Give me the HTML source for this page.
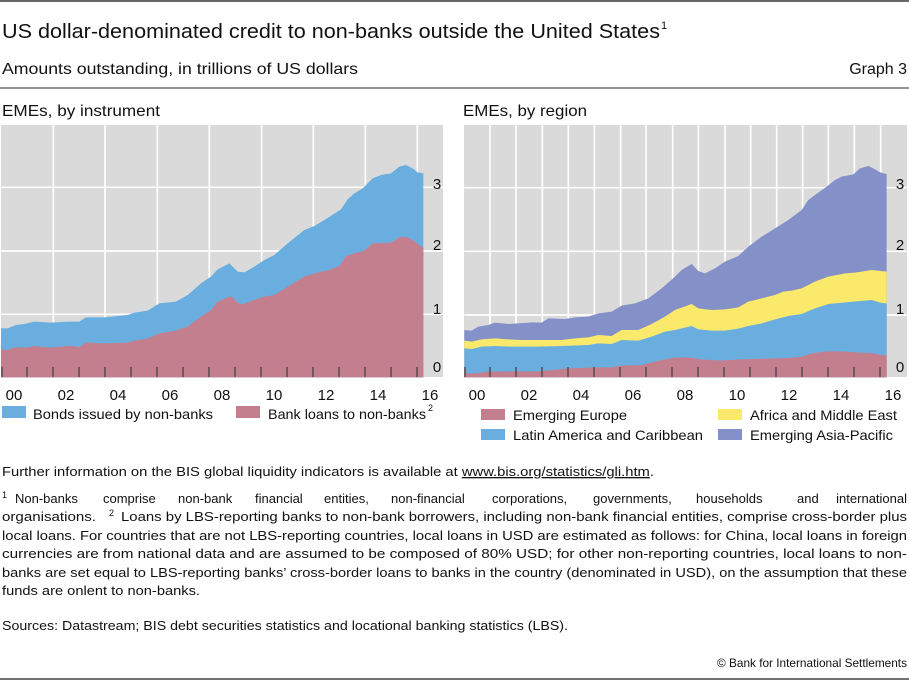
<!DOCTYPE html>
<html><head><meta charset="utf-8"><style>html,body{margin:0;padding:0;background:#fff}svg{display:block}</style></head>
<body>
<svg width="909" height="681" viewBox="0 0 909 681" xmlns="http://www.w3.org/2000/svg" font-family="Liberation Sans, DejaVu Sans, sans-serif">
<rect width="909" height="681" fill="#fff"/>
<line x1="0" y1="1" x2="909" y2="1" stroke="#333" stroke-width="1.5"/>
<text x="2" y="38" font-size="20" fill="#111" textLength="658" lengthAdjust="spacingAndGlyphs">US dollar-denominated credit to non-banks outside the United States</text>
<text x="661" y="29" font-size="11" fill="#111">1</text>
<text x="2" y="74" font-size="16" fill="#111" textLength="356" lengthAdjust="spacingAndGlyphs">Amounts outstanding, in trillions of US dollars</text>
<text x="907" y="74" font-size="16" fill="#111" text-anchor="end">Graph 3</text>
<line x1="0" y1="88" x2="909" y2="88" stroke="#555" stroke-width="1.2"/>
<text x="2" y="116" font-size="16" fill="#111" textLength="158" lengthAdjust="spacingAndGlyphs">EMEs, by instrument</text>
<text x="463" y="116" font-size="16" fill="#111" textLength="124" lengthAdjust="spacingAndGlyphs">EMEs, by region</text>

<!-- LEFT PANEL -->
<rect x="1" y="125" width="442" height="252" fill="#dadada"/>
<g transform="translate(0,120) scale(0.33333)" stroke="#fff" stroke-width="5">
<line x1="3" y1="583" x2="1329" y2="583"/><line x1="3" y1="393" x2="1329" y2="393"/><line x1="3" y1="202" x2="1329" y2="202"/>
<line x1="160" y1="15" x2="160" y2="772"/><line x1="315" y1="15" x2="315" y2="772"/><line x1="472" y1="15" x2="472" y2="772"/><line x1="628" y1="15" x2="628" y2="772"/><line x1="785" y1="15" x2="785" y2="772"/><line x1="940" y1="15" x2="940" y2="772"/><line x1="1096" y1="15" x2="1096" y2="772"/><line x1="1252" y1="15" x2="1252" y2="772"/>
</g>
<g transform="translate(1,120) scale(0.33333)">
<polygon fill="#6aaee0" points="0,772 0,625 20,625 45,615 70,612 100,605 150,608 200,605 235,605 255,592 310,592 380,585 400,578 440,572 475,550 525,545 560,525 600,490 630,470 650,448 685,430 710,455 730,457 760,440 790,420 820,405 860,370 910,330 940,318 970,300 1020,268 1040,238 1060,220 1085,205 1115,175 1140,165 1170,160 1195,140 1215,135 1235,145 1250,157 1267,160 1267,772"/>
<polygon fill="#c47f8e" points="0,772 0,688 20,690 40,682 80,683 100,678 150,683 200,678 220,678 235,682 255,667 300,670 380,668 400,662 440,656 475,640 520,633 560,620 600,590 630,570 650,545 690,528 710,548 725,553 760,540 790,530 820,525 860,500 910,470 925,465 960,455 980,452 1015,438 1035,408 1060,400 1090,392 1115,370 1170,368 1195,352 1215,350 1235,360 1250,372 1267,383 1267,772"/>
</g>
<g stroke="#5a4a4e" stroke-width="1.5">
<line x1="2" y1="367" x2="2" y2="377"/><line x1="27" y1="367" x2="27" y2="377"/><line x1="53" y1="367" x2="53" y2="377"/><line x1="79" y1="367" x2="79" y2="377"/><line x1="105" y1="367" x2="105" y2="377"/><line x1="131" y1="367" x2="131" y2="377"/><line x1="157" y1="367" x2="157" y2="377"/><line x1="183" y1="367" x2="183" y2="377"/><line x1="209" y1="367" x2="209" y2="377"/><line x1="235" y1="367" x2="235" y2="377"/><line x1="261" y1="367" x2="261" y2="377"/><line x1="287" y1="367" x2="287" y2="377"/><line x1="313" y1="367" x2="313" y2="377"/><line x1="339" y1="367" x2="339" y2="377"/><line x1="365" y1="367" x2="365" y2="377"/><line x1="391" y1="367" x2="391" y2="377"/><line x1="417" y1="367" x2="417" y2="377"/>
</g>
<g font-size="15" fill="#111" text-anchor="middle">
<text x="437" y="372">0</text><text x="437" y="314">1</text><text x="437" y="250">2</text><text x="437" y="189">3</text>
<text x="14" y="400">00</text><text x="66" y="400">02</text><text x="118" y="400">04</text><text x="170" y="400">06</text><text x="222" y="400">08</text><text x="274" y="400">10</text><text x="326" y="400">12</text><text x="378" y="400">14</text><text x="430" y="400">16</text>
</g>
<rect x="2" y="406" width="24" height="12" fill="#6aaee0"/>
<text x="33" y="419" font-size="14" fill="#111" textLength="180" lengthAdjust="spacingAndGlyphs">Bonds issued by non-banks</text>
<rect x="236" y="406" width="24" height="12" fill="#c47f8e"/>
<text x="268" y="419" font-size="14" fill="#111" textLength="158" lengthAdjust="spacingAndGlyphs">Bank loans to non-banks</text>
<text x="428" y="411" font-size="9" fill="#111">2</text>

<!-- RIGHT PANEL -->
<rect x="464" y="125" width="443" height="252" fill="#dadada"/>
<g transform="translate(455,120) scale(0.33333)" stroke="#fff" stroke-width="5">
<line x1="28" y1="585" x2="1356" y2="585"/><line x1="28" y1="394" x2="1356" y2="394"/><line x1="28" y1="203" x2="1356" y2="203"/>
<line x1="105" y1="15" x2="105" y2="772"/><line x1="183" y1="15" x2="183" y2="772"/><line x1="262" y1="15" x2="262" y2="772"/><line x1="340" y1="15" x2="340" y2="772"/><line x1="418" y1="15" x2="418" y2="772"/><line x1="497" y1="15" x2="497" y2="772"/><line x1="573" y1="15" x2="573" y2="772"/><line x1="653" y1="15" x2="653" y2="772"/><line x1="730" y1="15" x2="730" y2="772"/><line x1="810" y1="15" x2="810" y2="772"/><line x1="887" y1="15" x2="887" y2="772"/><line x1="965" y1="15" x2="965" y2="772"/><line x1="1043" y1="15" x2="1043" y2="772"/><line x1="1120" y1="15" x2="1120" y2="772"/><line x1="1198" y1="15" x2="1198" y2="772"/><line x1="1277" y1="15" x2="1277" y2="772"/>
</g>
<g transform="translate(455,120) scale(0.33333)">
<polygon fill="#8490c8" points="28,772 28,630 50,632 70,620 100,615 120,608 160,612 190,610 230,607 260,608 280,595 330,597 360,592 400,590 430,580 470,575 500,557 540,550 580,535 620,505 660,470 680,450 710,432 730,453 750,460 780,445 810,425 850,408 880,380 920,350 960,325 1000,300 1040,270 1060,240 1080,225 1115,200 1140,180 1160,170 1195,163 1215,145 1240,138 1255,145 1275,157 1295,162 1295,772"/>
<polygon fill="#fbe96b" points="28,772 28,662 50,665 80,658 120,655 160,658 200,660 250,660 320,660 360,655 400,652 430,645 470,648 500,630 550,630 590,612 630,590 660,570 710,552 730,565 770,570 810,568 850,562 880,545 920,535 960,525 985,515 1010,512 1040,505 1080,485 1120,470 1170,460 1200,458 1250,450 1295,455 1295,772"/>
<polygon fill="#6aaee0" points="28,772 28,685 50,687 80,680 120,678 160,680 250,680 320,678 400,675 430,670 470,672 500,660 550,662 590,650 630,635 660,630 710,618 730,628 770,632 810,632 850,626 880,618 920,610 960,598 1000,588 1040,582 1080,565 1120,552 1195,545 1250,540 1275,548 1295,550 1295,772"/>
<polygon fill="#c47f8e" points="28,772 28,760 60,760 100,755 250,754 340,745 420,742 470,742 500,737 560,735 620,720 660,713 700,712 740,718 800,722 850,718 900,717 1000,714 1040,710 1070,700 1115,694 1160,694 1200,697 1260,700 1275,705 1295,705 1295,772"/>
</g>
<g stroke="#5a4a4e" stroke-width="1.5">
<line x1="465" y1="367" x2="465" y2="377"/><line x1="490" y1="367" x2="490" y2="377"/><line x1="516" y1="367" x2="516" y2="377"/><line x1="542" y1="367" x2="542" y2="377"/><line x1="568" y1="367" x2="568" y2="377"/><line x1="594" y1="367" x2="594" y2="377"/><line x1="620" y1="367" x2="620" y2="377"/><line x1="646" y1="367" x2="646" y2="377"/><line x1="672" y1="367" x2="672" y2="377"/><line x1="698" y1="367" x2="698" y2="377"/><line x1="724" y1="367" x2="724" y2="377"/><line x1="750" y1="367" x2="750" y2="377"/><line x1="776" y1="367" x2="776" y2="377"/><line x1="802" y1="367" x2="802" y2="377"/><line x1="828" y1="367" x2="828" y2="377"/><line x1="854" y1="367" x2="854" y2="377"/><line x1="880" y1="367" x2="880" y2="377"/>
</g>
<g font-size="15" fill="#111" text-anchor="middle">
<text x="900" y="372">0</text><text x="900" y="314">1</text><text x="900" y="250">2</text><text x="900" y="189">3</text>
<text x="477" y="400">00</text><text x="529" y="400">02</text><text x="581" y="400">04</text><text x="633" y="400">06</text><text x="685" y="400">08</text><text x="737" y="400">10</text><text x="789" y="400">12</text><text x="841" y="400">14</text><text x="893" y="400">16</text>
</g>
<rect x="481" y="409" width="24" height="11" fill="#c47f8e"/>
<text x="513" y="420" font-size="14" fill="#111" textLength="114" lengthAdjust="spacingAndGlyphs">Emerging Europe</text>
<rect x="481" y="429" width="24" height="11" fill="#6aaee0"/>
<text x="513" y="440" font-size="14" fill="#111" textLength="190" lengthAdjust="spacingAndGlyphs">Latin America and Caribbean</text>
<rect x="718" y="409" width="24" height="11" fill="#fbe96b"/>
<text x="750" y="420" font-size="14" fill="#111" textLength="147" lengthAdjust="spacingAndGlyphs">Africa and Middle East</text>
<rect x="718" y="429" width="24" height="11" fill="#8490c8"/>
<text x="750" y="440" font-size="14" fill="#111" textLength="143" lengthAdjust="spacingAndGlyphs">Emerging Asia-Pacific</text>

<!-- FOOTNOTES -->
<g font-size="13" fill="#111">
<text x="2" y="476" textLength="652" lengthAdjust="spacingAndGlyphs">Further information on the BIS global liquidity indicators is available at <tspan text-decoration="underline">www.bis.org/statistics/gli.htm</tspan>.</text>
<text x="2" y="498" font-size="9">1</text>
<text x="15" y="503">Non-banks</text>
<text x="103" y="503">comprise</text>
<text x="178" y="503">non-bank</text>
<text x="255" y="503">financial</text>
<text x="324" y="503">entities,</text>
<text x="391" y="503">non-financial</text>
<text x="492" y="503">corporations,</text>
<text x="593" y="503">governments,</text>
<text x="696" y="503">households</text>
<text x="797" y="503">and</text>
<text x="907" y="503" text-anchor="end">international</text>
<text x="2" y="521" textLength="94" lengthAdjust="spacingAndGlyphs">organisations.</text>
<text x="109" y="516" font-size="9">2</text>
<text x="121" y="521" textLength="786" lengthAdjust="spacingAndGlyphs">Loans by LBS-reporting banks to non-bank borrowers, including non-bank financial entities, comprise cross-border plus</text>
<text x="2" y="540" textLength="905" lengthAdjust="spacingAndGlyphs">local loans. For countries that are not LBS-reporting countries, local loans in USD are estimated as follows: for China, local loans in foreign</text>
<text x="2" y="558" textLength="905" lengthAdjust="spacingAndGlyphs">currencies are from national data and are assumed to be composed of 80% USD; for other non-reporting countries, local loans to non-</text>
<text x="2" y="577" textLength="905" lengthAdjust="spacingAndGlyphs">banks are set equal to LBS-reporting banks’ cross-border loans to banks in the country (denominated in USD), on the assumption that these</text>
<text x="2" y="595" textLength="198" lengthAdjust="spacingAndGlyphs">funds are onlent to non-banks.</text>
<text x="2" y="630" textLength="566" lengthAdjust="spacingAndGlyphs">Sources: Datastream; BIS debt securities statistics and locational banking statistics (LBS).</text>
<text x="907" y="667" font-size="12" text-anchor="end" textLength="190" lengthAdjust="spacingAndGlyphs">© Bank for International Settlements</text>
</g>
<line x1="0" y1="679" x2="909" y2="679" stroke="#444" stroke-width="1.5"/>
</svg>
</body></html>
